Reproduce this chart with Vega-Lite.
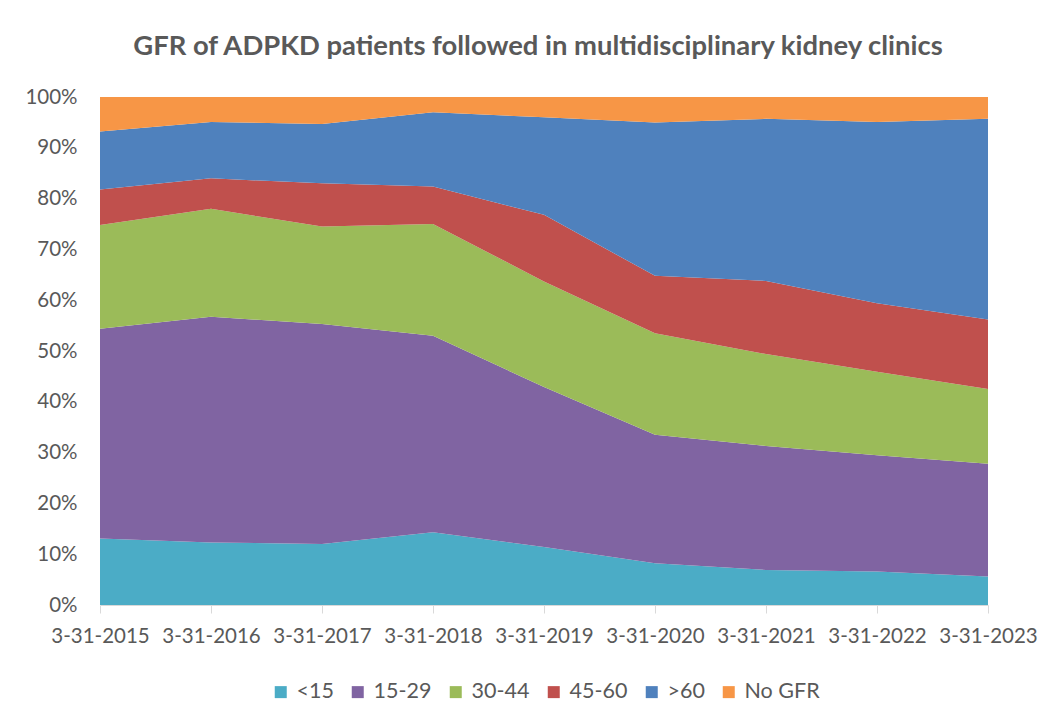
{
  "$schema": "https://vega.github.io/schema/vega-lite/v6.json",
  "width": 888,
  "height": 508,
  "autosize": {"type": "none"},
  "padding": {"left": 100, "top": 97, "right": 67, "bottom": 116},
  "background": "white",
  "title": {
    "text": "GFR of ADPKD patients followed in multidisciplinary kidney clinics",
    "font": "Lato",
    "fontSize": 27.4,
    "fontWeight": "bold",
    "color": "#595959",
    "baseline": "alphabetic",
    "offset": 5,
    "anchor": "middle",
    "dx": -6
  },
  "config": {
    "view": {"stroke": null},
    "font": "Lato"
  },
  "data": {
    "values": [
      {"date": "3-31-2015", "group": "<15", "pct": 13.1},
      {"date": "3-31-2015", "group": "15-29", "pct": 41.3},
      {"date": "3-31-2015", "group": "30-44", "pct": 20.4},
      {"date": "3-31-2015", "group": "45-60", "pct": 7.0},
      {"date": "3-31-2015", "group": ">60", "pct": 11.4},
      {"date": "3-31-2015", "group": "No GFR", "pct": 6.8},
      {"date": "3-31-2016", "group": "<15", "pct": 12.3},
      {"date": "3-31-2016", "group": "15-29", "pct": 44.4},
      {"date": "3-31-2016", "group": "30-44", "pct": 21.2},
      {"date": "3-31-2016", "group": "45-60", "pct": 6.0},
      {"date": "3-31-2016", "group": ">60", "pct": 11.1},
      {"date": "3-31-2016", "group": "No GFR", "pct": 4.9},
      {"date": "3-31-2017", "group": "<15", "pct": 12.0},
      {"date": "3-31-2017", "group": "15-29", "pct": 43.3},
      {"date": "3-31-2017", "group": "30-44", "pct": 19.2},
      {"date": "3-31-2017", "group": "45-60", "pct": 8.5},
      {"date": "3-31-2017", "group": ">60", "pct": 11.7},
      {"date": "3-31-2017", "group": "No GFR", "pct": 5.3},
      {"date": "3-31-2018", "group": "<15", "pct": 14.3},
      {"date": "3-31-2018", "group": "15-29", "pct": 38.7},
      {"date": "3-31-2018", "group": "30-44", "pct": 22.0},
      {"date": "3-31-2018", "group": "45-60", "pct": 7.4},
      {"date": "3-31-2018", "group": ">60", "pct": 14.6},
      {"date": "3-31-2018", "group": "No GFR", "pct": 3.0},
      {"date": "3-31-2019", "group": "<15", "pct": 11.4},
      {"date": "3-31-2019", "group": "15-29", "pct": 31.5},
      {"date": "3-31-2019", "group": "30-44", "pct": 20.8},
      {"date": "3-31-2019", "group": "45-60", "pct": 13.1},
      {"date": "3-31-2019", "group": ">60", "pct": 19.2},
      {"date": "3-31-2019", "group": "No GFR", "pct": 4.0},
      {"date": "3-31-2020", "group": "<15", "pct": 8.2},
      {"date": "3-31-2020", "group": "15-29", "pct": 25.3},
      {"date": "3-31-2020", "group": "30-44", "pct": 20.0},
      {"date": "3-31-2020", "group": "45-60", "pct": 11.3},
      {"date": "3-31-2020", "group": ">60", "pct": 30.2},
      {"date": "3-31-2020", "group": "No GFR", "pct": 5.0},
      {"date": "3-31-2021", "group": "<15", "pct": 6.9},
      {"date": "3-31-2021", "group": "15-29", "pct": 24.4},
      {"date": "3-31-2021", "group": "30-44", "pct": 18.1},
      {"date": "3-31-2021", "group": "45-60", "pct": 14.4},
      {"date": "3-31-2021", "group": ">60", "pct": 31.9},
      {"date": "3-31-2021", "group": "No GFR", "pct": 4.3},
      {"date": "3-31-2022", "group": "<15", "pct": 6.6},
      {"date": "3-31-2022", "group": "15-29", "pct": 22.9},
      {"date": "3-31-2022", "group": "30-44", "pct": 16.4},
      {"date": "3-31-2022", "group": "45-60", "pct": 13.5},
      {"date": "3-31-2022", "group": ">60", "pct": 35.7},
      {"date": "3-31-2022", "group": "No GFR", "pct": 4.9},
      {"date": "3-31-2023", "group": "<15", "pct": 5.6},
      {"date": "3-31-2023", "group": "15-29", "pct": 22.2},
      {"date": "3-31-2023", "group": "30-44", "pct": 14.7},
      {"date": "3-31-2023", "group": "45-60", "pct": 13.7},
      {"date": "3-31-2023", "group": ">60", "pct": 39.5},
      {"date": "3-31-2023", "group": "No GFR", "pct": 4.3}
    ]
  },
  "transform": [
    {"calculate": "indexof(['<15','15-29','30-44','45-60','>60','No GFR'], datum.group)", "as": "stackOrder"}
  ],
  "mark": {"type": "area", "opacity": 1},
  "encoding": {
    "x": {
      "field": "date",
      "type": "ordinal",
      "scale": {"type": "point", "padding": 0},
      "axis": {
        "title": null,
        "labelAngle": 0,
        "labelFont": "Lato",
        "labelFontSize": 20.5,
        "labelColor": "#595959",
        "domainColor": "#D9D9D9",
        "domainWidth": 1,
        "tickColor": "#D9D9D9",
        "tickSize": 8,
        "labelPadding": 13,
        "grid": false
      }
    },
    "y": {
      "field": "pct",
      "type": "quantitative",
      "stack": "normalize",
      "scale": {"domain": [0, 1], "nice": false},
      "axis": {
        "title": null,
        "format": ".0%",
        "values": [0, 0.1, 0.2, 0.3, 0.4, 0.5, 0.6, 0.7, 0.8, 0.9, 1.0],
        "labelFont": "Lato",
        "labelFontSize": 20.5,
        "labelColor": "#595959",
        "domain": false,
        "ticks": false,
        "grid": false,
        "labelPadding": 23
      }
    },
    "color": {
      "field": "group",
      "type": "nominal",
      "scale": {
        "domain": ["<15", "15-29", "30-44", "45-60", ">60", "No GFR"],
        "range": ["#4BACC6", "#8064A2", "#9BBB59", "#C0504D", "#4F81BD", "#F79646"]
      },
      "legend": {
        "title": null,
        "orient": "none",
        "direction": "horizontal",
        "legendX": 170,
        "legendY": 584,
        "symbolType": "square",
        "symbolSize": 144,
        "symbolStrokeWidth": 0,
        "symbolOpacity": 1,
        "labelFont": "Lato",
        "labelFontSize": 21.5,
        "labelColor": "#595959",
        "labelOffset": 5,
        "columnPadding": 13
      }
    },
    "order": {"field": "stackOrder", "type": "quantitative"}
  }
}
